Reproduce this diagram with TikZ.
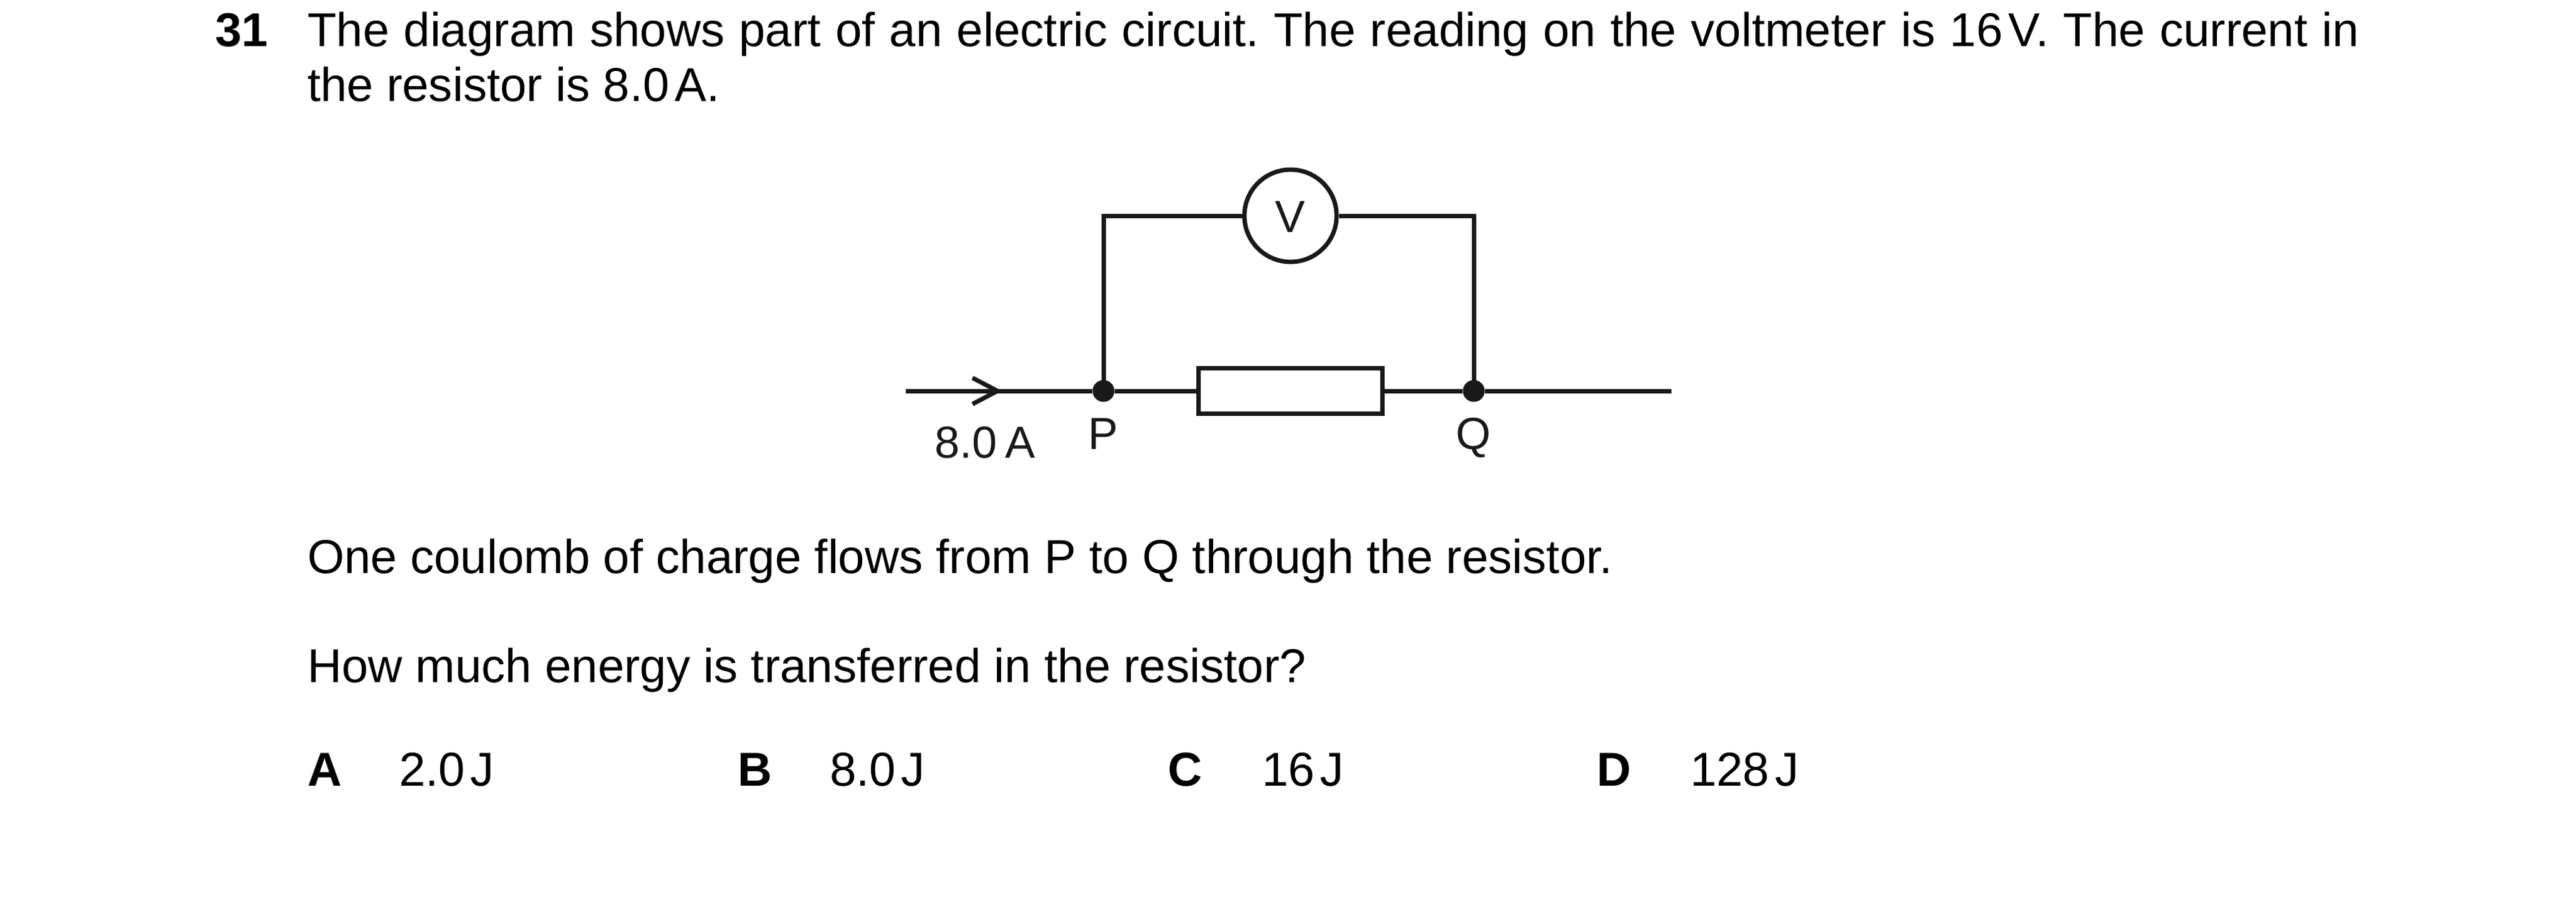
\documentclass[tikz,border=0pt]{standalone}
\usepackage{fontspec}
\setmainfont{Liberation Sans}
\usetikzlibrary{calc, positioning}
\frenchspacing
\newcommand{\unitgap}{\kern2.5pt}

\tikzset{
	wire/.style = {line width = 0.07cm, color = black!90},
	txt/.style = {anchor = base west, inner sep = 0, outer sep = 0, font = \fontsize{21.7}{26}\selectfont},
	bold/.style = {txt, font = \fontsize{21.7}{26}\selectfont\bfseries},
	lab/.style = {inner sep = 0, outer sep = 0, anchor = base, color = black!90, font = \fontsize{20.5}{24}\selectfont},
	junction/.style = {circle, fill = black!90, inner sep = 0, minimum size = 0.35cm},
	meter/.style = {wire, circle, draw, fill = white, inner sep = 0, minimum size = 1.48cm},
	resistor/.style = {wire, rectangle, draw, fill = white, inner sep = 0, minimum width = 2.95cm, minimum height = 0.73cm}
}

\begin{document}
\begin{tikzpicture}
	\def\yW{-6.27};
	\def\yT{-3.46};
	\def\xP{17.70};
	\def\xQ{23.64};
	\def\xM{20.70};
	
	\useasboundingbox (0,0) rectangle (41.32,-14.68);
	
	% question text
	\node [bold] (num) at (3.45,-0.74) {31};
	\node [txt] (lineA) at (4.93,-0.74) {\spaceskip=6.6pt The diagram shows part of an electric circuit. The reading on the voltmeter is 16\unitgap V. The current in};
	\node [txt] (lineB) at (4.93,-1.62) {the resistor is 8.0\unitgap A.};
	\node [txt] (lineC) at (4.93,-9.19) {One coulomb of charge flows from P to Q through the resistor.};
	\node [txt] (lineD) at (4.93,-10.94) {How much energy is transferred in the resistor?};
	
	% circuit
	\coordinate (inEnd) at (14.53,\yW);
	\coordinate (outEnd) at (26.81,\yW);
	\coordinate (arrowTip) at (16.00,\yW);
	
	\node [junction] (P) at (\xP,\yW) {};
	\node [junction] (Q) at (\xQ,\yW) {};
	\node [resistor] (res) at (\xM,\yW) {};
	\node [meter] (volt) at (\xM,\yT) {};
	\node [lab] (voltLab) at (\xM,-3.72) {V};
	
	\begin{scope}[wire]
		\draw (inEnd) -- (P);
		\draw (P) -- (res);
		\draw (res) -- (Q);
		\draw (Q) -- (outEnd);
		\draw (P.center) |- (volt);
		\draw (volt) -| (Q.center);
		\draw (arrowTip) ++(-0.40,0.21) -- (arrowTip) -- ++(-0.40,-0.21);
	\end{scope}
	
	\node [lab] (labI) at (15.80,-7.34) {8.0\,A};
	\node [lab] (labP) at (\xP,-7.20) {P};
	\node [lab] (labQ) at (\xQ,-7.20) {Q};
	
	% answer options
	\begin{scope}
		\node [bold] (optA) at (4.93,-12.60) {A};
		\node [txt] (valA) at (6.40,-12.60) {2.0\unitgap J};
		\node [bold] (optB) at (11.83,-12.60) {B};
		\node [txt] (valB) at (13.31,-12.60) {8.0\unitgap J};
		\node [bold] (optC) at (18.73,-12.60) {C};
		\node [txt] (valC) at (20.24,-12.60) {16\unitgap J};
		\node [bold] (optD) at (25.61,-12.60) {D};
		\node [txt] (valD) at (27.11,-12.60) {128\unitgap J};
	\end{scope}
\end{tikzpicture}
\end{document}
